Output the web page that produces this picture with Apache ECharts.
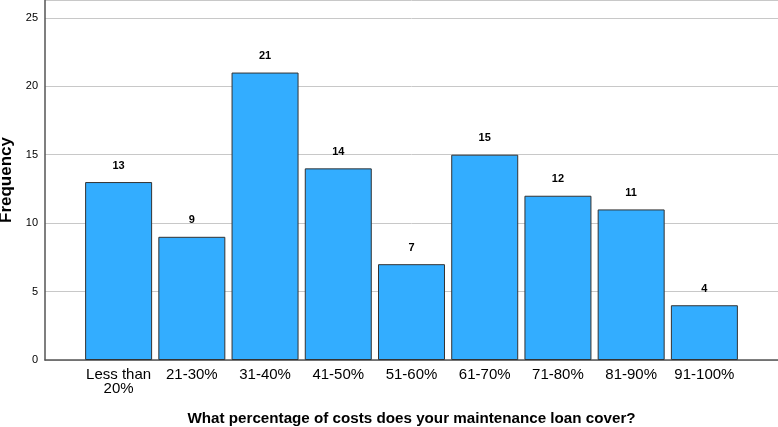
<!DOCTYPE html>
<html>
<head>
<meta charset="utf-8">
<script src="https://cdn.jsdelivr.net/npm/echarts@6/dist/echarts.min.js"></script>
<style>
  html, body { margin: 0; padding: 0; background: #fff; }
  #chart { width: 778px; height: 427px; }
</style>
</head>
<body>
<div id="chart"></div>
<script>
  const categories = ['Less than\n20%', '21-30%', '31-40%', '41-50%', '51-60%', '61-70%', '71-80%', '81-90%', '91-100%'];
  const frequency = [13, 9, 21, 14, 7, 15, 12, 11, 4];
  const yTicks = [0, 5, 10, 15, 20, 25];

  const chart = echarts.init(document.getElementById('chart'));
  const yMax = 26.3;
  chart.setOption({
    animation: false,
    textStyle: { fontFamily: 'Liberation Sans, Arial, sans-serif' },
    grid: [
      // frame: y axis, grid lines and x axis line
      { left: 45, right: 0, top: 0, bottom: 67, outerBoundsMode: 'none', containLabel: false },
      // bars
      { left: 82, right: 37, top: 0, bottom: 67, outerBoundsMode: 'none', containLabel: false }
    ],
    xAxis: [
      {
        gridIndex: 0, type: 'value', min: 0, max: 1,
        axisLine: { show: true, onZero: false, lineStyle: { color: '#555', width: 1.5 } },
        axisTick: { show: false }, axisLabel: { show: false }, splitLine: { show: false }
      },
      {
        gridIndex: 1, type: 'category', data: categories,
        axisLine: { show: false }, axisTick: { show: false },
        axisLabel: { color: '#000', fontSize: 15, margin: 8, lineHeight: 14, interval: 0 },
        name: 'What percentage of costs does your maintenance loan cover?',
        nameLocation: 'middle', nameGap: 51,
        nameTextStyle: { color: '#000', fontSize: 15.2, fontWeight: 'bold' }
      }
    ],
    yAxis: [
      {
        gridIndex: 0, type: 'value', min: 0, max: yMax, interval: 5,
        axisLine: { show: true, lineStyle: { color: '#555', width: 1.5 } },
        axisTick: { show: false },
        axisLabel: {
          color: '#000', fontSize: 11, margin: 7, showMaxLabel: false,
          formatter: v => (yTicks.indexOf(v) >= 0 ? String(v) : '')
        },
        splitLine: { show: true, lineStyle: { color: '#c8c8c8', width: 1 } },
        name: 'Frequency', nameLocation: 'middle', nameGap: 26,
        nameTextStyle: { color: '#000', fontSize: 17, fontWeight: 'bold' }
      },
      {
        gridIndex: 1, type: 'value', min: 0, max: yMax,
        show: false
      }
    ],
    series: [
      {
        type: 'bar', xAxisIndex: 1, yAxisIndex: 1,
        data: frequency,
        barCategoryGap: '8.5%',
        itemStyle: { color: '#33adff', borderColor: '#333', borderWidth: 1 },
        label: {
          show: true, position: 'top', distance: 11,
          color: '#000', fontSize: 11, fontWeight: 'bold'
        }
      }
    ]
  });
</script>
</body>
</html>
